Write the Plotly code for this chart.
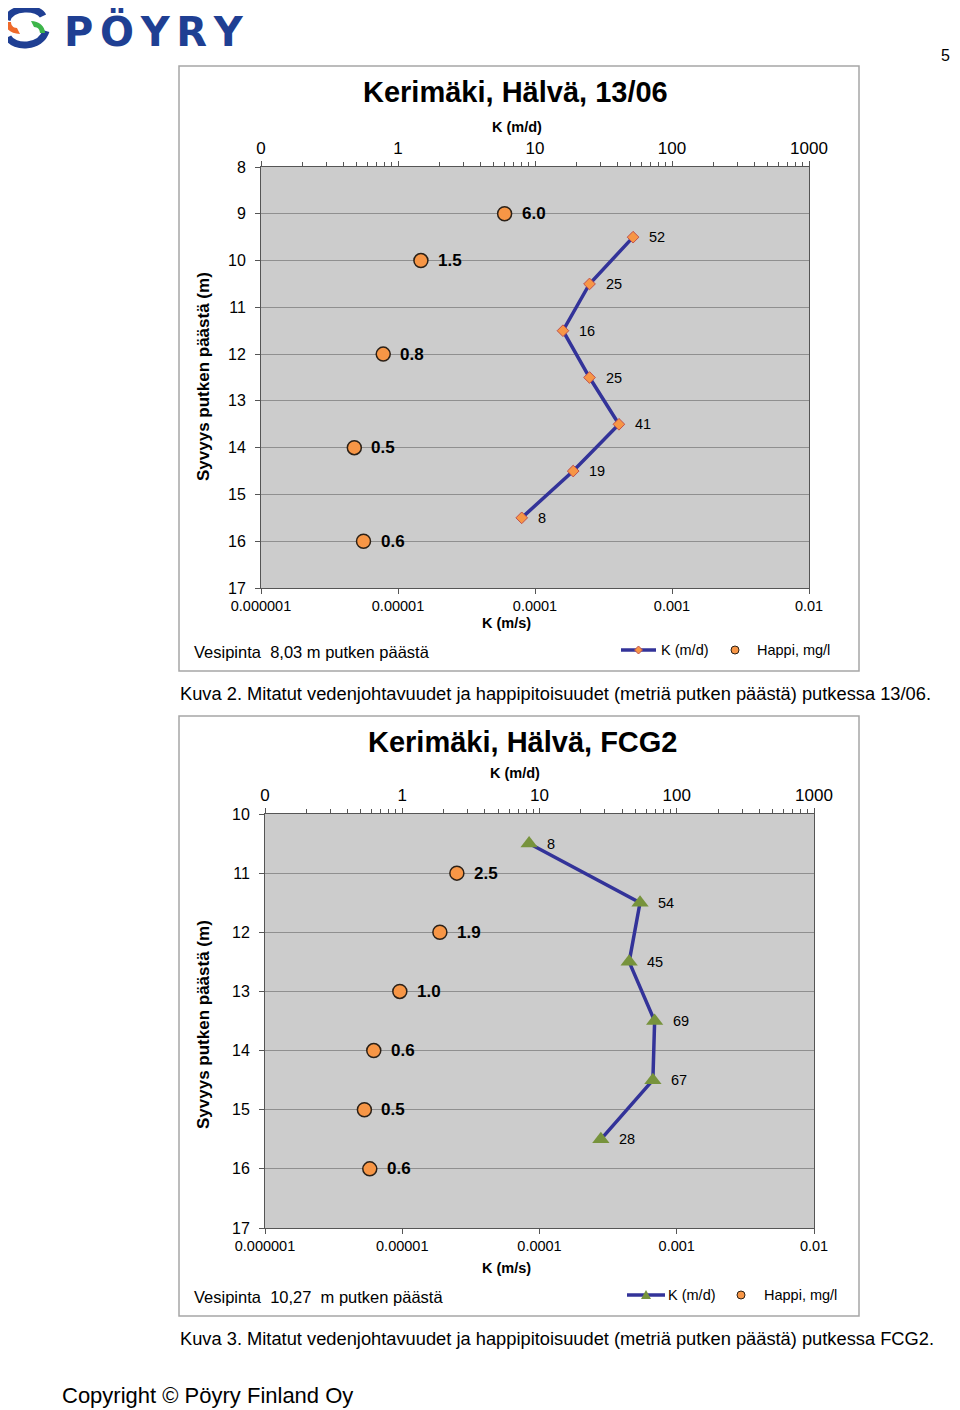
import numpy as np
import plotly.graph_objects as go

# figure placed inside the window (the page body adds an 8 px margin)
W, H = 950, 1400
OFF = 8
FONT = "Liberation Sans"

# ---------------- data ----------------
# Chart 1: Kerimäki, Hälvä, 13/06
c1_k_depth = [9.5, 10.5, 11.5, 12.5, 13.5, 14.5, 15.5]
c1_k_md = [52, 25, 16, 25, 41, 19, 8]
c1_o2_depth = [9, 10, 12, 14, 16]
c1_o2 = [6.0, 1.47, 0.78, 0.48, 0.56]

# Chart 2: Kerimäki, Hälvä, FCG2
c2_k_depth = [10.5, 11.5, 12.5, 13.5, 14.5, 15.5]
c2_k_md = [8.4, 54, 45, 69, 67, 28]
c2_k_labels = ["8", "54", "45", "69", "67", "28"]
c2_o2_depth = [11, 12, 13, 14, 15, 16]
c2_o2 = [2.5, 1.88, 0.96, 0.62, 0.53, 0.58]

md_ticks = [0.1, 1, 10, 100, 1000]
md_ticktext = ["0", "1", "10", "100", "1000"]
ms_ticks = [1e-6, 1e-5, 1e-4, 1e-3, 1e-2]
ms_ticktext = ["0.000001", "0.00001", "0.0001", "0.001", "0.01"]

LINE_BLUE = "#333399"
ORANGE = "#F79646"
GREEN = "#77933C"
PLOT_BG = "#cccccc"
GRID = "#8f8f8f"
AXIS = "#555555"


def px(x):
    return (x - OFF) / W


def py(y):
    return 1 - (y - OFF) / H


minor_vals = [m * 10.0 ** e for e in range(-1, 3) for m in range(2, 10)]

fig = go.Figure()

charts = [
    dict(xb="x", xt="x2", y="y", xdom=(261, 809), ydom=(167, 588), ymin=8, ymax=17,
         kd=c1_k_depth, kv=c1_k_md, kl=[str(v) for v in c1_k_md],
         od=c1_o2_depth, ov=c1_o2, sym="diamond", ksize=9, kcol=ORANGE,
         kline=dict(color="#C0504D", width=1), kshift=14),
    dict(xb="x3", xt="x4", y="y2", xdom=(265, 814), ydom=(814, 1228), ymin=10, ymax=17,
         kd=c2_k_depth, kv=c2_k_md, kl=c2_k_labels,
         od=c2_o2_depth, ov=c2_o2, sym="triangle-up", ksize=15, kcol=GREEN,
         kline=dict(width=0), kshift=16),
]

layout = dict(
    width=W, height=H, autosize=False,
    margin=dict(l=0, r=0, t=0, b=0, pad=0, autoexpand=False),
    paper_bgcolor="white", plot_bgcolor=PLOT_BG, showlegend=False,
    font=dict(family=FONT, color="black"),
)

annotations = []
shapes = []

for i, c in enumerate(charts):
    xb_name = "xaxis" if c["xb"] == "x" else "xaxis" + c["xb"][1:]
    xt_name = "xaxis" + c["xt"][1:]
    y_name = "yaxis" if c["y"] == "y" else "yaxis" + c["y"][1:]
    xdom = [px(c["xdom"][0]), px(c["xdom"][1])]
    ydom = [py(c["ydom"][1]), py(c["ydom"][0])]

    layout[xb_name] = dict(
        domain=xdom, anchor=c["y"], type="log", range=[-6, -2], side="bottom",
        tickvals=ms_ticks, ticktext=ms_ticktext, ticks="outside", ticklen=5,
        tickcolor=AXIS, showgrid=False, zeroline=False, showline=True,
        linecolor=AXIS, linewidth=1, tickfont=dict(size=14.5, family=FONT),
        automargin=False,
    )
    layout[xt_name] = dict(
        domain=xdom, overlaying=c["xb"], anchor=c["y"], side="top", type="log", range=[-1, 3],
        tickvals=md_ticks, ticktext=md_ticktext, ticks="outside", ticklen=5,
        tickcolor=AXIS, showgrid=False, zeroline=False, showline=True,
        linecolor=AXIS, linewidth=1, tickfont=dict(size=17, family=FONT),
        minor=dict(tickvals=minor_vals, ticks="outside", ticklen=4,
                   tickcolor=AXIS, showgrid=False),
        automargin=False,
    )
    layout[y_name] = dict(
        domain=ydom, anchor=c["xb"], range=[c["ymax"], c["ymin"]],
        tickvals=list(range(c["ymin"], c["ymax"] + 1)), ticks="outside", ticklen=5,
        tickcolor=AXIS, showgrid=True, gridcolor=GRID, gridwidth=1,
        zeroline=False, showline=True, linecolor=AXIS, linewidth=1, mirror=True,
        tickfont=dict(size=16, family=FONT), automargin=False, ticklabelstandoff=6,
    )

    # empty trace so the bottom (m/s) axis has a subplot of its own
    fig.add_trace(go.Scatter(x=[None], y=[None], xaxis=c["xb"], yaxis=c["y"],
                             mode="markers", hoverinfo="skip"))
    # K line
    fig.add_trace(go.Scatter(
        x=c["kv"], y=c["kd"], xaxis=c["xt"], yaxis=c["y"], mode="lines+markers",
        line=dict(color=LINE_BLUE, width=3.5),
        marker=dict(symbol=c["sym"], size=c["ksize"], color=c["kcol"], line=c["kline"]),
        cliponaxis=False,
    ))
    # Oxygen points
    fig.add_trace(go.Scatter(
        x=c["ov"], y=c["od"], xaxis=c["xt"], yaxis=c["y"], mode="markers",
        marker=dict(symbol="circle", size=14, color=ORANGE,
                    line=dict(color="#2b2118", width=1.5)),
        cliponaxis=False,
    ))
    for v, d, lab in zip(c["kv"], c["kd"], c["kl"]):
        annotations.append(dict(
            x=np.log10(v), y=d, xref=c["xt"], yref=c["y"], text=lab, showarrow=False,
            xanchor="left", yanchor="middle", xshift=c["kshift"],
            font=dict(size=14.5, family=FONT, color="black")))
    for v, d in zip(c["ov"], c["od"]):
        annotations.append(dict(
            x=np.log10(v), y=d, xref=c["xt"], yref=c["y"], text=f"<b>{v:.1f}</b>",
            showarrow=False, xanchor="left", yanchor="middle", xshift=15,
            font=dict(size=17, family=FONT, color="black")))


def txt(x, y, text, size, bold=False, xanchor="center", angle=0, color="black", family=FONT):
    annotations.append(dict(
        x=px(x), y=py(y), xref="paper", yref="paper", showarrow=False,
        text=f"<b>{text}</b>" if bold else text, xanchor=xanchor, yanchor="middle",
        textangle=angle, font=dict(size=size, family=family, color=color)))


# chart boxes
for (x0, y0, x1, y1) in [(179, 66, 859, 671), (179, 716, 859, 1316)]:
    shapes.append(dict(type="rect", xref="paper", yref="paper",
                       x0=px(x0), x1=px(x1), y0=py(y1), y1=py(y0),
                       line=dict(color="#a6a6a6", width=1.5), layer="below"))

# chart 1 texts
txt(515, 92, "Kerimäki, Hälvä, 13/06", 29, bold=True)
txt(517, 127, "K (m/d)", 14.5, bold=True)
txt(506, 623, "K (m/s)", 14.5, bold=True)
txt(203, 377, "Syvyys putken päästä (m)", 17, bold=True, angle=-90)
txt(192, 652, "Vesipinta  8,03 m putken päästä", 16.5, xanchor="left")
# chart 2 texts
txt(522, 742, "Kerimäki, Hälvä, FCG2", 29, bold=True)
txt(515, 773, "K (m/d)", 14.5, bold=True)
txt(506, 1268, "K (m/s)", 14.5, bold=True)
txt(203, 1025, "Syvyys putken päästä (m)", 17, bold=True, angle=-90)
txt(192, 1297, "Vesipinta  10,27  m putken päästä", 16.5, xanchor="left")

# captions etc.
txt(178, 693, "Kuva 2. Mitatut vedenjohtavuudet ja happipitoisuudet (metriä putken päästä) putkessa 13/06.", 18.3, xanchor="left")
txt(178, 1338, "Kuva 3. Mitatut vedenjohtavuudet ja happipitoisuudet (metriä putken päästä) putkessa FCG2.", 18.3, xanchor="left")
txt(60, 1395, "Copyright © Pöyry Finland Oy", 22, xanchor="left")
txt(945, 56, "5", 16)
txt(62, 32, "<b>P\u2006Ö\u2006Y\u2006R\u2006Y</b>", 40, xanchor="left", color="#1f3f93",
    family="DejaVu Sans")


def path(cmds):
    out = []
    for c in cmds:
        if isinstance(c, str):
            out.append(c)
        else:
            out.append(f"{px(c[0]):.5f},{py(c[1]):.5f}")
    return " ".join(out)


# logo symbol
shapes.append(dict(type="path", xref="paper", yref="paper",
                   path=path(["M", (43, 16), "C", (38, 6), (11, 6), (7, 20)]),
                   line=dict(color="#1f3f93", width=7)))
shapes.append(dict(type="path", xref="paper", yref="paper",
                   path=path(["M", (8, 37), "C", (14, 49), (41, 48), (46, 31)]),
                   line=dict(color="#1f3f93", width=7)))
shapes.append(dict(type="path", xref="paper", yref="paper",
                   path=path(["M", (5, 22), "C", (5, 29), (11, 34), (20, 34), "L", (17, 28),
                              "C", (13, 28), (11, 25), (11, 22), "Z"]),
                   fillcolor="#ef6a2a", line=dict(width=0)))
shapes.append(dict(type="path", xref="paper", yref="paper",
                   path=path(["M", (45, 33), "C", (45, 26), (39, 21), (31, 21), "L", (34, 27),
                              "C", (38, 27), (40, 30), (40, 33), "Z"]),
                   fillcolor="#3db54a", line=dict(width=0)))


def legend(y, lx0, lx1, sym, tx, cx, tx2):
    shapes.append(dict(type="line", xref="paper", yref="paper", x0=px(lx0), x1=px(lx1),
                       y0=py(y), y1=py(y), line=dict(color=LINE_BLUE, width=3.5)))
    m = (lx0 + lx1) / 2
    if sym == "diamond":
        shapes.append(dict(type="path", xref="paper", yref="paper",
                           path=path(["M", (m, y - 4), "L", (m + 4, y), "L", (m, y + 4), "L", (m - 4, y), "Z"]),
                           fillcolor=ORANGE, line=dict(color="#C0504D", width=1)))
    else:
        shapes.append(dict(type="path", xref="paper", yref="paper",
                           path=path(["M", (m, y - 5), "L", (m + 5, y + 4), "L", (m - 5, y + 4), "Z"]),
                           fillcolor=GREEN, line=dict(width=0)))
    txt(tx, y, "K (m/d)", 14.5, xanchor="left")
    shapes.append(dict(type="circle", xref="paper", yref="paper",
                       x0=px(cx - 4), x1=px(cx + 4), y0=py(y + 4), y1=py(y - 4),
                       fillcolor=ORANGE, line=dict(color="#2b2118", width=1)))
    txt(tx2, y, "Happi, mg/l", 14.5, xanchor="left")


legend(650, 621, 656, "diamond", 659, 735, 755)
legend(1295, 627, 665, "triangle", 666, 741, 762)

layout["annotations"] = annotations
layout["shapes"] = shapes
fig.update_layout(**layout)
fig.write_html("out.html")
